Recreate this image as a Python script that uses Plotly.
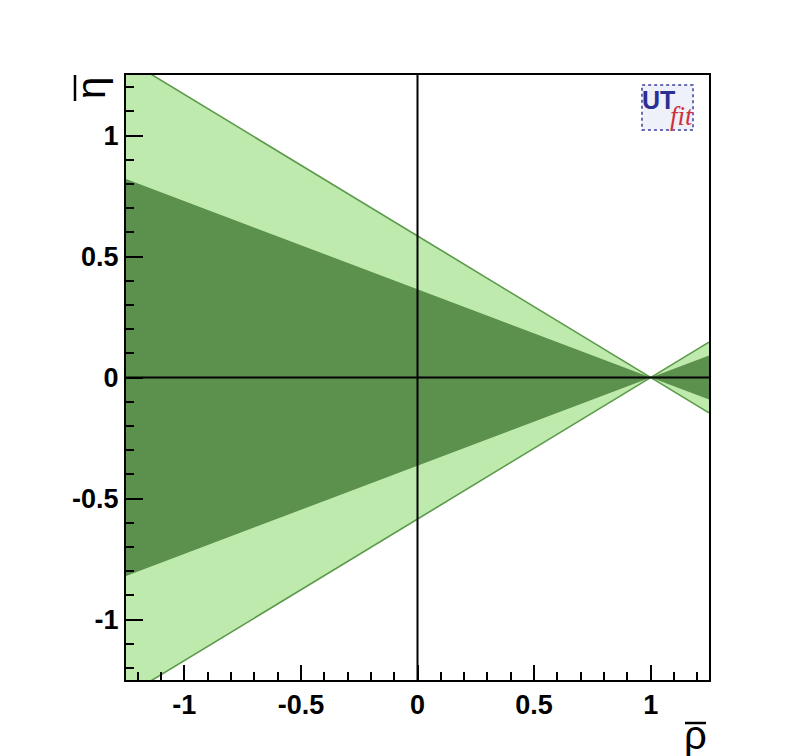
import plotly.graph_objects as go

# Data: band edges through the apex (rho=1, eta=0)
band_rho = [-1.25, 1.0, 1.25, 1.25, 1.0, -1.25, -1.25]
light_eta = [1.316, 0.0, -0.146, 0.146, 0.0, -1.316, 1.316]
dark_eta = [0.82, 0.0, -0.091, 0.091, 0.0, -0.82, 0.82]
edge_rho = [-1.25, 1.25]
edge_upper = [1.316, -0.146]
edge_lower = [-1.316, 0.146]
tick_vals = [-1, -0.5, 0, 0.5, 1]
tick_text = ["-1", "-0.5", "0", "0.5", "1"]

LIGHT = "#bfeaae"
DARK = "#5b914c"
EDGE = "#5a9a48"

fig = go.Figure()
fig.add_trace(go.Scatter(x=band_rho, y=light_eta, fill="toself", fillcolor=LIGHT,
                         mode="lines", line=dict(width=0), hoverinfo="skip", showlegend=False))
fig.add_trace(go.Scatter(x=band_rho, y=dark_eta, fill="toself", fillcolor=DARK,
                         mode="lines", line=dict(width=0), hoverinfo="skip", showlegend=False))
fig.add_trace(go.Scatter(x=edge_rho, y=edge_upper, mode="lines", line=dict(color=EDGE, width=1.6),
                         hoverinfo="skip", showlegend=False))
fig.add_trace(go.Scatter(x=edge_rho, y=edge_lower, mode="lines", line=dict(color=EDGE, width=1.6),
                         hoverinfo="skip", showlegend=False))

# axis cross lines
fig.add_shape(type="line", x0=0, x1=0, y0=-1.25, y1=1.25, xref="x", yref="y",
              line=dict(color="black", width=2), layer="above")
fig.add_shape(type="line", x0=-1.25, x1=1.25, y0=0, y1=0, xref="x", yref="y",
              line=dict(color="black", width=2), layer="above")

axfont = dict(family="Liberation Sans", size=27, color="black", weight="bold")
common = dict(range=[-1.25, 1.25], showgrid=False, zeroline=False, showline=True,
              linecolor="black", linewidth=2, mirror=True, ticks="inside",
              tickcolor="black", tickwidth=2, tickfont=axfont,
              tickvals=tick_vals, ticktext=tick_text,
              minor=dict(ticks="inside", ticklen=8, dtick=0.1, tick0=0,
                         tickcolor="black", tickwidth=2))
fig.update_xaxes(**common, ticklen=15)
fig.update_yaxes(**common, ticklen=17)

# axis titles (ROOT style: eta-bar rotated, rho-bar at bottom right)
fig.add_annotation(text="η", xref="paper", yref="paper", x=-0.059, y=0.978, textangle=-90,
                   showarrow=False, font=dict(family="Liberation Sans", size=40, color="black"),
                   xanchor="center", yanchor="middle")
fig.add_shape(type="line", xref="paper", yref="paper", x0=-0.0875, x1=-0.0875, y0=0.957, y1=1.0,
              line=dict(color="black", width=2.5))
fig.add_annotation(text="ρ", xref="paper", yref="paper", x=0.977, y=-0.052,
                   showarrow=False, font=dict(family="Liberation Sans", size=40, color="black"),
                   xanchor="center", yanchor="top")
fig.add_shape(type="line", xref="paper", yref="paper", x0=0.9588, x1=0.9949, y0=-0.0711, y1=-0.0711,
              line=dict(color="black", width=2.5))

# UTfit logo
fig.add_shape(type="rect", xref="paper", yref="paper", x0=0.885, x1=0.9726, y0=0.909, y1=0.9835,
              fillcolor="#eef0fa", line=dict(color="#3a3f99", width=1.5, dash="dot"), layer="above")
fig.add_annotation(text="<b>UT</b>", xref="paper", yref="paper", x=0.913, y=0.958,
                   showarrow=False, xanchor="center", yanchor="middle",
                   font=dict(family="Liberation Sans", size=25, color="#2b2f8f"))
fig.add_annotation(text="<i>fit</i>", xref="paper", yref="paper", x=0.954, y=0.933,
                   showarrow=False, xanchor="center", yanchor="middle",
                   font=dict(family="Liberation Serif", size=27, color="#d0303a"))

fig.update_layout(width=780, height=748, plot_bgcolor="white", paper_bgcolor="white",
                  margin=dict(l=118, r=79, t=67, b=76), showlegend=False)
fig.write_html("out.html")
